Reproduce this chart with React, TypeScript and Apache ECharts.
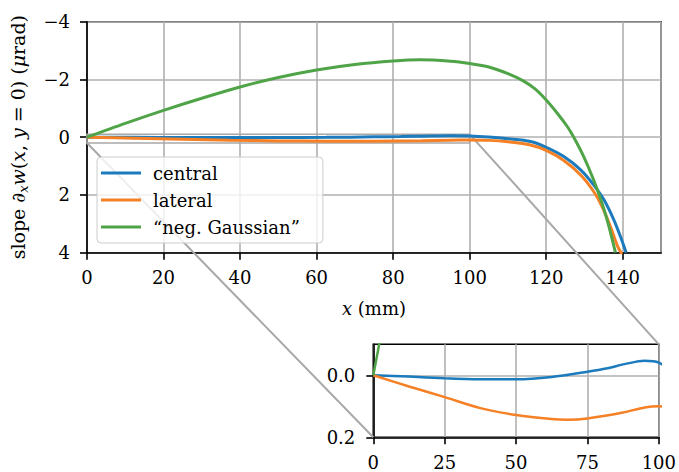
import React, { useEffect, useRef } from "react";
import * as echarts from "echarts";

// ---- data ----
const centralX = [0, 12.5, 25, 37.5, 50, 62.5, 75, 82, 88, 95, 100, 105, 110, 115.9, 120, 124.6, 129, 132.4, 135.1, 137.7, 139.4, 140.9];
const centralY = [0, 0.004, 0.0096, 0.0128, 0.013, 0.0053, -0.0117, -0.023, -0.036, -0.047, -0.041, -0.005, 0.055, 0.15, 0.35, 0.67, 1.13, 1.65, 2.17, 2.87, 3.44, 4.0];

const lateralX = [0, 12.5, 25, 37.5, 50, 62.5, 68, 75, 87.5, 95, 100, 105, 110, 115.9, 120, 124.6, 129, 132.4, 134.6, 136.8, 138.7, 139.8];
const lateralY = [0, 0.036, 0.0705, 0.106, 0.128, 0.141, 0.143, 0.139, 0.12, 0.104, 0.1, 0.11, 0.16, 0.27, 0.46, 0.81, 1.31, 1.88, 2.4, 3.1, 3.79, 4.05];

const gaussX = [0, 10, 20, 30, 40, 50, 60, 70, 80, 87, 95, 100, 105, 110, 114, 117, 120, 122.9, 125.5, 127.2, 129.8, 132.4, 134.6, 136.4, 138.1];
const gaussY = [0, -0.48, -0.93, -1.35, -1.74, -2.07, -2.33, -2.52, -2.64, -2.68, -2.63, -2.55, -2.43, -2.2, -1.95, -1.68, -1.29, -0.83, -0.37, 0, 0.67, 1.48, 2.29, 3.1, 4.0];

const seriesNames = ["central", "lateral", "\u201cneg. Gaussian\u201d"];
const seriesColors = ["#1b7bbd", "#f58025", "#4fa447"];

const mainXTicks = { min: 0, max: 150, interval: 20 };
const mainYTicks = { min: -4, max: 4, interval: 2 };
const insetXTicks = { min: 0, max: 100, interval: 25 };
const insetYRange = { min: -0.1, max: 0.2 };
const insetYTickValues = [0, 0.2];

const zip = (xs: number[], ys: number[]) => xs.map((x, i) => [x, ys[i]]);

const FONT = "DejaVu Serif";

export default function App() {
  const ref = useRef<HTMLDivElement>(null);
  useEffect(() => {
    document.body.style.margin = "0";
    if (!ref.current) return;
    const chart = echarts.init(ref.current, null, { renderer: "svg" });
    const datasets = [zip(centralX, centralY), zip(lateralX, lateralY), zip(gaussX, gaussY)];

    const axisCommon = {
      axisLine: { show: true, onZero: false, lineStyle: { color: "#000", width: 1.6 } },
      axisTick: { show: true, inside: false, length: 7, lineStyle: { color: "#000", width: 1.6 } },
      splitLine: { show: true, lineStyle: { color: "#b0b0b0", width: 1.6 } },
      axisLabel: { color: "#000", fontFamily: FONT, fontSize: 18 },
    };

    const minusFmt = (v: number) => (v < 0 ? "\u2212" + String(-v) : String(v));

    const series: any[] = [];
    datasets.forEach((d, i) => {
      series.push({
        name: seriesNames[i], type: "line", data: d, xAxisIndex: 0, yAxisIndex: 0,
        showSymbol: false, symbol: "none", smooth: 0.3,
        lineStyle: { color: seriesColors[i], width: 3 }, itemStyle: { color: seriesColors[i] }, z: 2,
      });
      series.push({
        name: seriesNames[i], type: "line", data: d, xAxisIndex: 1, yAxisIndex: 1,
        showSymbol: false, symbol: "none", smooth: 0.3, clip: true,
        lineStyle: { color: seriesColors[i], width: 2.5 }, itemStyle: { color: seriesColors[i] }, z: 2,
      });
    });

    chart.setOption({
      animation: false,
      backgroundColor: "#fff",
      textStyle: { fontFamily: FONT },
      grid: [
        { left: 87, top: 21.7, width: 574, height: 231, show: true, borderColor: "#000", borderWidth: 1.6, backgroundColor: "transparent" },
        { left: 373.3, top: 344.3, width: 286.7, height: 93, show: true, borderColor: "#000", borderWidth: 1.6, backgroundColor: "transparent" },
      ],
      xAxis: [
        {
          type: "value", gridIndex: 0, ...mainXTicks, ...axisCommon,
          axisLabel: { ...axisCommon.axisLabel, margin: 16, showMaxLabel: false },
          name: "{i|x}{r| (mm)}", nameLocation: "middle", nameGap: 47,
          nameTextStyle: { rich: { i: { fontFamily: FONT, fontSize: 18, fontStyle: "italic", color: "#000" }, r: { fontFamily: FONT, fontSize: 18, color: "#000" } } },
        },
        {
          type: "value", gridIndex: 1, ...insetXTicks, ...axisCommon,
          axisLabel: { ...axisCommon.axisLabel, margin: 16 },
        },
      ],
      yAxis: [
        {
          type: "value", gridIndex: 0, inverse: true, ...mainYTicks, ...axisCommon,
          axisLabel: { ...axisCommon.axisLabel, margin: 17, formatter: minusFmt },
          name: "{r|slope \u2202}{s|x}{i|w}{r|(}{i|x}{r|, }{i|y}{r| = 0) (}{i|\u03bc}{r|rad)}",
          nameLocation: "middle", nameGap: 57, nameRotate: 90,
          nameTextStyle: {
            rich: {
              r: { fontFamily: FONT, fontSize: 19, color: "#000", lineHeight: 24 },
              i: { fontFamily: FONT, fontSize: 19, fontStyle: "italic", color: "#000", lineHeight: 24 },
              s: { fontFamily: FONT, fontSize: 13, fontStyle: "italic", color: "#000", lineHeight: 15, verticalAlign: "bottom" },
            },
          },
        },
        {
          type: "value", gridIndex: 1, inverse: true, ...insetYRange, ...axisCommon,
          axisTick: { ...axisCommon.axisTick, customValues: insetYTickValues },
          axisLabel: { ...axisCommon.axisLabel, margin: 18, customValues: insetYTickValues, formatter: (v: number) => v.toFixed(1) },
        },
      ],
      legend: {
        orient: "vertical", left: 97, top: 157, data: seriesNames,
        icon: "rect", itemWidth: 40, itemHeight: 3, itemGap: 7,
        padding: [6, 23, 6, 4],
        backgroundColor: "rgba(255,255,255,0.8)", borderColor: "#cccccc", borderWidth: 1, borderRadius: 4,
        textStyle: { fontFamily: FONT, fontSize: 18, color: "#000", lineHeight: 20, padding: [0, 0, 0, 7] },
        z: 5,
      },
      series,
    });

    const p = (g: number, v: number[]) => chart.convertToPixel({ gridIndex: g } as any, v) as number[];
    const a = p(0, [0, -0.1]);
    const b = p(0, [100, 0.2]);
    const l1s = p(0, [0, 0.2]);
    const l1e = p(1, [0, 0.2]);
    const l2s = p(0, [100, -0.1]);
    const l2e = p(1, [100, -0.1]);
    const gray = "#a8a8a8";
    chart.setOption({
      graphic: [
        { type: "rect", z: 1, shape: { x: a[0], y: Math.min(a[1], b[1]), width: b[0] - a[0], height: Math.abs(b[1] - a[1]) }, style: { fill: "none", stroke: gray, lineWidth: 1.6 } },
        { type: "line", z: 1, shape: { x1: l1s[0], y1: l1s[1], x2: l1e[0], y2: l1e[1] }, style: { stroke: gray, lineWidth: 2 } },
        { type: "line", z: 1, shape: { x1: l2s[0], y1: l2s[1], x2: l2e[0], y2: l2e[1] }, style: { stroke: gray, lineWidth: 2 } },
      ],
    });

    return () => chart.dispose();
  }, []);
  return <div ref={ref} style={{ width: 679, height: 472 }} />;
}
